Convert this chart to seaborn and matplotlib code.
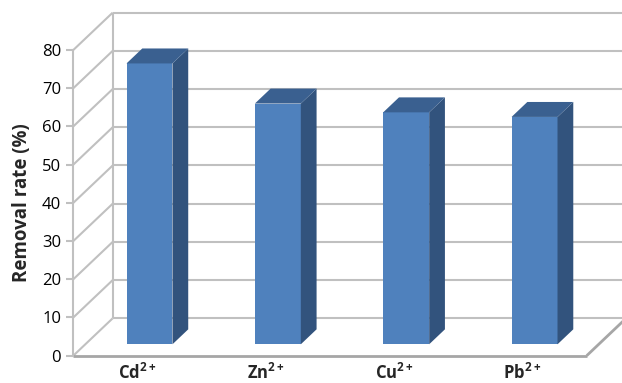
import matplotlib
matplotlib.use("Agg")
import matplotlib.pyplot as plt
import seaborn as sns
import pandas as pd
from matplotlib.transforms import Affine2D, IdentityTransform
from matplotlib.lines import Line2D
from matplotlib.patches import Polygon

# ---- data ----
categories = [r"Cd$^{\mathbf{2+}}$", r"Zn$^{\mathbf{2+}}$",
              r"Cu$^{\mathbf{2+}}$", r"Pb$^{\mathbf{2+}}$"]
removal_rate = [73.5, 63.0, 60.7, 59.5]
yticks = [0, 10, 20, 30, 40, 50, 60, 70, 80]
ylabel = "Removal rate (%)"

# ---- style ----
sns.set_style("white")
plt.rcParams["font.family"] = ["Open Sans", "DejaVu Sans"]
plt.rcParams["mathtext.fontset"] = "custom"
plt.rcParams["mathtext.bf"] = "Open Sans:bold"
plt.rcParams["mathtext.rm"] = "Open Sans"

FRONT = "#4F81BD"
SIDE = "#32537D"
TOP = "#3A6090"
GRID = "#C0C0C0"
FLOOR = "#A6A6A6"

W, H, DPI = 622, 383, 100
fig = plt.figure(figsize=(W / DPI, H / DPI), dpi=DPI)
ax = fig.add_axes([73.3 / W, (H - 355.7) / H, 513.4 / W, 305.7 / H])

# depth offset (pixels, display coords) from front plane to back wall
DX, DY = 39.4, 37.4
D0, D1 = 0.305, 0.705  # bar front / back depth fraction

df = pd.DataFrame({"ion": categories, "rate": removal_rate})
sns.barplot(data=df, x="ion", y="rate", ax=ax, color=FRONT, saturation=1,
            width=0.358, linewidth=0, zorder=5)

ax.set_xlim(-0.5, 3.5)
ax.set_ylim(0, 80)
ax.set_yticks(yticks)
ax.set_xlabel("")
ax.set_ylabel(ylabel, fontsize=13.5, fontweight="bold", labelpad=7)
for s in ["top", "right", "bottom"]:
    ax.spines[s].set_visible(False)
ax.spines["left"].set_color(GRID)
ax.spines["left"].set_linewidth(1.5)
ax.tick_params(axis="y", left=True, length=4.8, width=1.5, color=GRID,
               labelsize=12, pad=4.0, labelcolor="black")
ax.tick_params(axis="x", bottom=False, pad=1.5)
ax.set_xticks(range(len(categories)))
ax.set_xticklabels(categories, fontsize=12, fontweight="bold")
ax.set_autoscale_on(False)


def P(x, y, d):
    px, py = ax.transData.transform((x, y))
    return (px + d * DX, py + d * DY)


def line(pts, color=GRID, lw=1.5, z=1):
    xs = [p[0] for p in pts]
    ys = [p[1] for p in pts]
    ln = Line2D(xs, ys, transform=IdentityTransform(), color=color, lw=lw,
                zorder=z, clip_on=False, solid_capstyle="butt")
    fig.add_artist(ln)


x0, x1 = ax.get_xlim()
# back wall gridlines + left wall diagonals
for v in yticks:
    line([P(x0, v, 1), P(x1, v, 1)])
    line([P(x0, v, 0), P(x0, v, 1)])
line([P(x0, 0, 1), P(x0, 80, 1)])
# floor edges
line([P(x0, 0, 0), P(x1, 0, 0)], color=FLOOR, lw=2)
line([P(x1, 0, 0), P(x1, 0, 1)], color=FLOOR, lw=2)

# 3-D bars: shift seaborn's front faces in depth, add side and top faces
for p in ax.patches:
    p.set_transform(ax.transData + Affine2D().translate(D0 * DX, D0 * DY))
    bx0 = p.get_x()
    bx1 = bx0 + p.get_width()
    h = p.get_height()
    side = Polygon([P(bx1, 0, D0), P(bx1, 0, D1), P(bx1, h, D1), P(bx1, h, D0)],
                   closed=True, transform=IdentityTransform(), facecolor=SIDE,
                   edgecolor="none", zorder=4)
    top = Polygon([P(bx0, h, D0), P(bx1, h, D0), P(bx1, h, D1), P(bx0, h, D1)],
                  closed=True, transform=IdentityTransform(), facecolor=TOP,
                  edgecolor="none", zorder=4)
    fig.add_artist(side)
    fig.add_artist(top)

for p in ax.patches:
    p.set_zorder(6)
ax.set_zorder(2)
ax.patch.set_visible(False)

fig.savefig("out.png", dpi=DPI)
